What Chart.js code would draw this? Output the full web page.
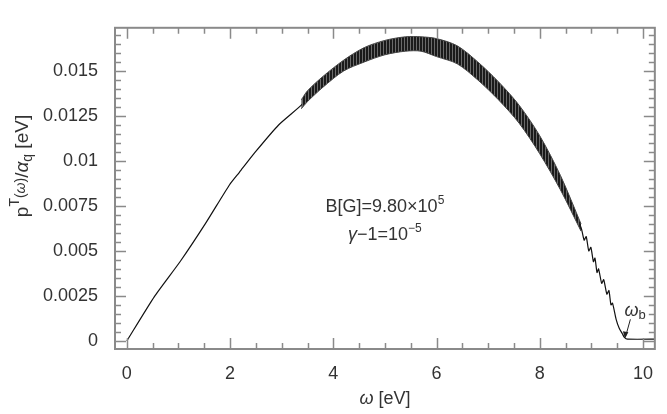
<!DOCTYPE html>
<html>
<head>
  <meta charset="UTF-8">
  <title>Emission spectrum</title>
  <script src="https://cdn.jsdelivr.net/npm/chart.js"></script>
  <style>
    html, body { margin: 0; padding: 0; background: #fff; }
    #wrap { width: 667px; height: 414px; }
  </style>
</head>
<body>
  <div id="wrap"><canvas id="spec"></canvas></div>

  <script>
    // tick labels
    const xTickValues = [0, 2, 4, 6, 8, 10];
    const yTickValues = [0, 0.0025, 0.005, 0.0075, 0.01, 0.0125, 0.015];
    const yTickLabels = ['0', '0.0025', '0.005', '0.0075', '0.01', '0.0125', '0.015'];

    // main curve (omega in eV, p/alpha in eV)
    const curveX = [0, 0.53, 1.04, 1.54, 1.99, 2.18, 2.49, 2.94, 3.38,
      3.8, 4.2, 4.6, 5.0, 5.4, 5.7, 6.0, 6.4, 6.8, 7.2, 7.6, 8.0, 8.4, 8.8,
      8.86, 8.90, 8.95, 8.99, 9.04, 9.07, 9.11, 9.14, 9.20, 9.24, 9.30, 9.34,
      9.38, 9.41, 9.48, 9.54, 9.60, 9.64, 9.70, 10.3];
    const curveY = [0, 0.00245, 0.00444, 0.0066, 0.00868, 0.00937, 0.0105, 0.0120, 0.0131,
      0.0144, 0.0153, 0.0159, 0.0163, 0.0165, 0.0165, 0.0163, 0.0159, 0.0150, 0.0139, 0.0126, 0.0109, 0.0088, 0.0063,
      0.0056, 0.0058, 0.0050, 0.0052, 0.0044, 0.0046, 0.0038, 0.0040, 0.0032, 0.0034, 0.0026, 0.0028,
      0.0020, 0.0021, 0.0012, 0.0007, 0.0004, 0.0002, 0.0001, 0.0001];

    // envelope of the fast oscillation band
    const bandX  = [3.38, 3.5, 3.8, 4.2, 4.6, 5.0, 5.4, 5.7, 6.0, 6.4, 6.8, 7.2, 7.6, 8.0, 8.4, 8.8];
    const bandHi = [0.0134, 0.0139, 0.0147, 0.0156, 0.0163, 0.0167, 0.0169, 0.0169, 0.0168, 0.0164, 0.0155, 0.0144, 0.0131, 0.0114, 0.0092, 0.0065];
    const bandLo = [0.0129, 0.0133, 0.0141, 0.0150, 0.0155, 0.0159, 0.0161, 0.0161, 0.0158, 0.0154, 0.0145, 0.0134, 0.0121, 0.0104, 0.0084, 0.0061];

    const omegaB = [9.64, 0.0002];

    const pts = (xs, ys) => xs.map((x, i) => ({ x: x, y: ys[i] }));
    const FONT = "'Liberation Sans', Arial, sans-serif";

    // striped fill so the dense oscillation reads as hatching
    function hatch() {
      const c = document.createElement('canvas');
      c.width = 3; c.height = 1;
      const g = c.getContext('2d');
      g.fillStyle = '#1a1a1a'; g.fillRect(0, 0, 2, 1);
      g.fillStyle = '#6a6a6a'; g.fillRect(2, 0, 1, 1);
      return g.createPattern(c, 'repeat');
    }

    function drawRich(ctx, parts, x, y) {
      let w = 0;
      parts.forEach(p => { ctx.font = p.font; w += ctx.measureText(p.t).width; });
      let cx = x - w / 2;
      parts.forEach(p => {
        ctx.font = p.font;
        ctx.fillText(p.t, cx, y + (p.dy || 0));
        cx += ctx.measureText(p.t).width;
      });
    }

    const decor = {
      id: 'decor',
      afterDraw(chart) {
        const ctx = chart.ctx;
        const a = chart.chartArea;
        const xs = chart.scales.x, ys = chart.scales.y;
        ctx.save();
        ctx.strokeStyle = '#8a8a8a';
        ctx.lineWidth = 1.5;
        // inward ticks on all four sides
        for (let v = 0; v <= 10.01; v += 0.5) {
          const px = Math.round(xs.getPixelForValue(v)) + 0.5;
          const len = Math.abs(v % 2) < 1e-6 ? 11 : 6;
          ctx.beginPath();
          ctx.moveTo(px, a.bottom); ctx.lineTo(px, a.bottom - len);
          ctx.moveTo(px, a.top); ctx.lineTo(px, a.top + len);
          ctx.stroke();
        }
        for (let k = 0; k <= 34; k++) {
          const v = k * 0.0005;
          const py = Math.round(ys.getPixelForValue(v)) + 0.5;
          const len = k % 5 === 0 ? 11 : 6;
          ctx.beginPath();
          ctx.moveTo(a.left, py); ctx.lineTo(a.left + len, py);
          ctx.moveTo(a.right, py); ctx.lineTo(a.right - len, py);
          ctx.stroke();
        }
        ctx.lineWidth = 2;
        ctx.strokeRect(a.left, a.top, a.right - a.left, a.bottom - a.top);

        ctx.fillStyle = '#333';
        ctx.textBaseline = 'alphabetic';
        ctx.textAlign = 'left';

        // x title
        drawRich(ctx, [
          { t: 'ω', font: 'italic 18px ' + FONT },
          { t: ' [eV]', font: '18px ' + FONT }
        ], (a.left + a.right) / 2, 404);

        // y title
        ctx.save();
        ctx.translate(28, 166);
        ctx.rotate(-Math.PI / 2);
        drawRich(ctx, [
          { t: 'p', font: '19px ' + FONT },
          { t: 'T', font: '14px ' + FONT, dy: -9 },
          { t: '(', font: '14px ' + FONT, dy: -3 },
          { t: 'ω', font: 'italic 14px ' + FONT, dy: -3 },
          { t: ')', font: '14px ' + FONT, dy: -3 },
          { t: '/', font: '19px ' + FONT },
          { t: 'α', font: 'italic 19px ' + FONT },
          { t: 'q', font: '14px ' + FONT, dy: 4 },
          { t: ' [eV]', font: '19px ' + FONT }
        ], 0, 0);
        ctx.restore();

        // annotation
        const ax = xs.getPixelForValue(5.0);
        drawRich(ctx, [
          { t: 'B[G]=9.80×10', font: '18px ' + FONT },
          { t: '5', font: '12px ' + FONT, dy: -8 }
        ], ax, ys.getPixelForValue(0.00714));
        drawRich(ctx, [
          { t: 'γ', font: 'italic 18px ' + FONT },
          { t: '−1=10', font: '18px ' + FONT },
          { t: '−5', font: '12px ' + FONT, dy: -8 }
        ], ax, ys.getPixelForValue(0.00563));

        // omega_b marker
        const bx = xs.getPixelForValue(omegaB[0]);
        const by = ys.getPixelForValue(omegaB[1]);
        ctx.font = 'italic 18px ' + FONT;
        ctx.fillText('ω', bx, by - 21);
        const ww = ctx.measureText('ω').width;
        ctx.font = '13px ' + FONT;
        ctx.fillText('b', bx + ww, by - 18);
        ctx.strokeStyle = '#222';
        ctx.lineWidth = 1;
        ctx.beginPath();
        ctx.moveTo(bx + 6, by - 18);
        ctx.lineTo(bx + 1, by);
        ctx.stroke();
        ctx.beginPath();
        ctx.moveTo(bx + 0.5, by + 1);
        ctx.lineTo(bx - 1.5, by - 6);
        ctx.lineTo(bx + 4, by - 5);
        ctx.closePath();
        ctx.fillStyle = '#222';
        ctx.fill();
        ctx.restore();
      }
    };

    new Chart(document.getElementById('spec'), {
      type: 'line',
      data: {
        datasets: [
          {
            data: pts(bandX, bandHi),
            borderColor: '#444',
            borderWidth: 1,
            pointRadius: 0,
            tension: 0.3,
            fill: false
          },
          {
            data: pts(bandX, bandLo),
            borderColor: '#444',
            borderWidth: 1,
            pointRadius: 0,
            tension: 0.3,
            backgroundColor: hatch(),
            fill: '-1'
          },
          {
            data: pts(curveX, curveY),
            borderColor: '#111',
            borderWidth: 1.2,
            pointRadius: 0,
            fill: false,
            tension: 0.2
          }
        ]
      },
      options: {
        responsive: true,
        maintainAspectRatio: false,
        animation: false,
        layout: { padding: { top: 5, right: 1, left: 0, bottom: 0 } },
        plugins: { legend: { display: false }, tooltip: { enabled: false } },
        scales: {
          x: {
            type: 'linear',
            min: -0.23,
            max: 10.23,
            grid: { display: false, drawTicks: false },
            border: { display: false },
            afterBuildTicks: s => { s.ticks = xTickValues.map(v => ({ value: v })); },
            afterFit: s => { s.height = 65; },
            ticks: {
              padding: 14,
              color: '#333',
              font: { family: FONT, size: 18 },
              maxRotation: 0,
              callback: v => String(v)
            }
          },
          y: {
            type: 'linear',
            min: -0.00045,
            max: 0.0174,
            grid: { display: false, drawTicks: false },
            border: { display: false },
            afterBuildTicks: s => { s.ticks = yTickValues.map(v => ({ value: v })); },
            afterFit: s => { s.width = 115; },
            ticks: {
              padding: 17,
              color: '#333',
              font: { family: FONT, size: 18 },
              callback: v => yTickLabels[yTickValues.indexOf(v)]
            }
          }
        }
      },
      plugins: [decor]
    });
  </script>
</body>
</html>
